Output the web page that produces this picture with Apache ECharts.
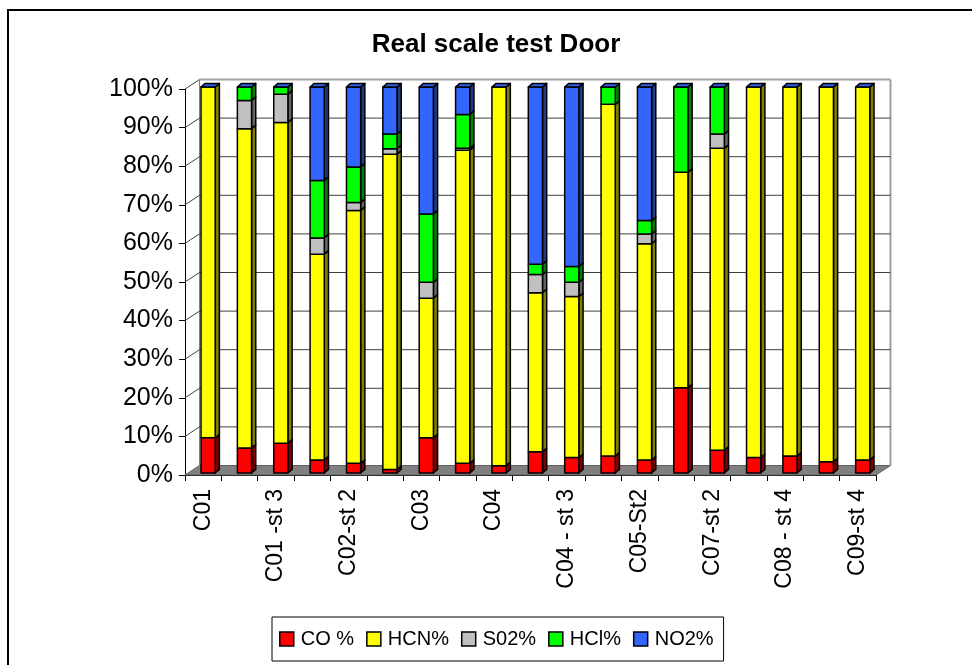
<!DOCTYPE html>
<html>
<head>
<meta charset="utf-8">
<title>Real scale test Door</title>
<script src="https://cdn.jsdelivr.net/npm/echarts@6/dist/echarts.min.js"></script>
<style>
  html, body { margin: 0; padding: 0; background: #fff; }
  #chart { width: 972px; height: 665px; }
</style>
</head>
<body>
<div id="chart"></div>
<script>
// Test runs (every other label is shown on the axis)
const categories = [
  'C01', 'C01 -st 2', 'C01 -st 3', 'C02', 'C02-st 2', 'C02-st 3', 'C03', 'C03-st 2',
  'C04', 'C04 - st 2', 'C04 - st 3', 'C05', 'C05-St2', 'C07', 'C07-st 2',
  'C08', 'C08 - st 4', 'C09', 'C09-st 4'
];

// Share of each gas in the measured toxicity (%)
const coPct  = [9.1, 6.5, 7.7, 3.4, 2.5, 0.9, 9.1, 2.5, 1.9, 5.5, 4.0, 4.4, 3.4, 22.1, 5.9, 4.0, 4.4, 2.9, 3.4];
const hcnPct = [90.9, 82.7, 83.1, 53.3, 65.5, 81.7, 36.2, 81.1, 98.1, 41.2, 41.7, 91.1, 56.0, 55.8, 78.2, 96.0, 95.6, 97.1, 96.6];
const so2Pct = [0, 7.3, 7.3, 4.2, 2.1, 1.4, 4.1, 0.5, 0, 4.7, 3.7, 0, 2.5, 0, 3.7, 0, 0, 0, 0];
const hclPct = [0, 3.5, 1.9, 14.9, 9.2, 3.8, 17.7, 8.8, 0, 2.7, 4.1, 4.5, 3.5, 22.1, 12.2, 0, 0, 0, 0];
const no2Pct = [0, 0, 0, 24.2, 20.7, 12.2, 32.9, 7.1, 0, 45.9, 46.5, 0, 34.6, 0, 0, 0, 0, 0, 0];

const seriesNames = ['CO %', 'HCN%', 'S02%', 'HCl%', 'NO2%'];
const yTickValues = [0, 10, 20, 30, 40, 50, 60, 70, 80, 90, 100];

const stacks = [coPct, hcnPct, so2Pct, hclPct, no2Pct];
const frontColors = ['#FF0000', '#FFFF00', '#C0C0C0', '#00FF00', '#3366FF'];
const sideColors  = ['#800000', '#808000', '#646464', '#008000', '#1F3C88'];
const topColor = '#2F5FE6';
const FONT = '"Liberation Sans", Arial, sans-serif';

// 3-D look: depth of the plot box and of each column
const WALL_DX = 14.5, WALL_DY = -9.5;
const BAR_DX = 4.2, BAR_DY = -3.6, BAR_SHIFT_Y = -2;

function barRenderer(k) {
  return function (params, api) {
    const i = api.value(0);
    const val = api.value(1);
    let base = 0;
    for (let j = 0; j < k; j++) base += stacks[j][i];
    const band = api.size([1, 0])[0];
    const cx = api.coord([i, 0])[0];
    const L = cx - 0.06 * band;
    const R = L + 0.39 * band;
    const yBot = api.coord([i, base])[1] + BAR_SHIFT_Y;
    const yTop = api.coord([i, base + val])[1] + BAR_SHIFT_Y;
    const children = [];
    const stroke = { stroke: '#000', lineWidth: 1.5, lineJoin: 'round' };
    if (val > 0) {
      children.push({
        type: 'polygon',
        shape: { points: [[R, yTop], [R + BAR_DX, yTop + BAR_DY], [R + BAR_DX, yBot + BAR_DY], [R, yBot]] },
        style: Object.assign({ fill: sideColors[k] }, stroke)
      });
      children.push({
        type: 'rect',
        shape: { x: L, y: yTop, width: R - L, height: yBot - yTop },
        style: Object.assign({ fill: frontColors[k] }, stroke)
      });
    }
    if (k === stacks.length - 1) {
      children.push({
        type: 'polygon',
        shape: { points: [[L, yTop], [L + BAR_DX, yTop + BAR_DY], [R + BAR_DX, yTop + BAR_DY], [R, yTop]] },
        style: Object.assign({ fill: topColor }, stroke)
      });
    }
    return { type: 'group', children: children };
  };
}

// Side wall, back wall and floor, built from the axis scales
function frameRenderer(params, api) {
  const v = api.value(0);
  const n = categories.length;
  const band = api.size([1, 0])[0];
  const left = api.coord([0, v])[0] - band / 2;
  const right = api.coord([n - 1, v])[0] + band / 2;
  const y = api.coord([0, v])[1];
  const children = [];
  if (v === 0) {
    children.push({
      type: 'polygon',
      shape: { points: [[left, y], [right, y], [right + WALL_DX, y + WALL_DY], [left + WALL_DX, y + WALL_DY]] },
      style: { fill: '#808080', stroke: '#606060', lineWidth: 1 }
    });
    const yMax = api.coord([0, 100])[1];
    children.push({
      type: 'line',
      shape: { x1: left + WALL_DX, y1: y + WALL_DY, x2: left + WALL_DX, y2: yMax + WALL_DY },
      style: { stroke: '#808080', lineWidth: 1 }
    });
    children.push({
      type: 'line',
      shape: { x1: right + WALL_DX, y1: y + WALL_DY, x2: right + WALL_DX, y2: yMax + WALL_DY },
      style: { stroke: '#A0A0A0', lineWidth: 2 }
    });
  } else {
    children.push({
      type: 'line',
      shape: { x1: left, y1: y, x2: left + WALL_DX, y2: y + WALL_DY },
      style: { stroke: '#404040', lineWidth: 1 }
    });
    children.push({
      type: 'line',
      shape: { x1: left + WALL_DX, y1: y + WALL_DY, x2: right + WALL_DX, y2: y + WALL_DY },
      style: { stroke: v === 100 ? '#A0A0A0' : '#404040', lineWidth: v === 100 ? 2 : 1 }
    });
  }
  return { type: 'group', children: children };
}

const chart = echarts.init(document.getElementById('chart'), null, { renderer: 'canvas' });

const series = [{
  type: 'custom',
  name: 'frame',
  z: 1,
  silent: true,
  coordinateSystem: 'cartesian2d',
  renderItem: frameRenderer,
  encode: { x: 1, y: 0 },
  data: yTickValues.map(function (v) { return [v, 0]; })
}];

stacks.forEach(function (vals, k) {
  series.push({
    type: 'custom',
    name: seriesNames[k],
    z: 2,
    coordinateSystem: 'cartesian2d',
    renderItem: barRenderer(k),
    encode: { x: 0, y: 1 },
    itemStyle: { color: frontColors[k], borderColor: '#000', borderWidth: 1.5 },
    data: vals.map(function (v, i) { return [i, v]; })
  });
});

chart.setOption({
  animation: false,
  color: frontColors,
  graphic: [{
    type: 'rect',
    shape: { x: 8, y: 10, width: 990, height: 680 },
    style: { fill: 'none', stroke: '#000', lineWidth: 2 },
    silent: true
  }],
  title: {
    text: 'Real scale test Door',
    left: 496,
    top: 32,
    textAlign: 'center',
    padding: 0,
    textStyle: { fontFamily: FONT, fontSize: 26, fontWeight: 'bold', color: '#000' }
  },
  legend: {
    data: seriesNames,
    left: 272,
    top: 617,
    orient: 'horizontal',
    padding: [12, 10, 12, 7],
    itemWidth: 14,
    itemHeight: 14,
    itemGap: 12,
    icon: 'rect',
    borderColor: '#000',
    borderWidth: 1,
    itemStyle: { borderColor: '#000', borderWidth: 1.5 },
    textStyle: { fontFamily: FONT, fontSize: 20, color: '#000', padding: [0, 0, 0, 2] }
  },
  grid: { left: 185, top: 89, right: 96, bottom: 190, containLabel: false },
  xAxis: {
    type: 'category',
    data: categories,
    boundaryGap: true,
    axisLine: { show: true, lineStyle: { color: '#000', width: 1 } },
    axisTick: { show: true, interval: 0, length: 6, lineStyle: { color: '#000' } },
    axisLabel: {
      interval: 1,
      rotate: 90,
      margin: 14,
      fontFamily: FONT,
      fontSize: 23,
      color: '#000'
    },
    splitLine: { show: false }
  },
  yAxis: {
    type: 'value',
    min: 0,
    max: 100,
    interval: 10,
    axisLine: { show: true, lineStyle: { color: '#000', width: 1 } },
    axisTick: { show: true, length: 6, lineStyle: { color: '#000' } },
    axisLabel: {
      formatter: '{value}%',
      margin: 12,
      fontFamily: FONT,
      fontSize: 25,
      color: '#000'
    },
    splitLine: { show: false }
  },
  series: series
});
</script>
</body>
</html>
